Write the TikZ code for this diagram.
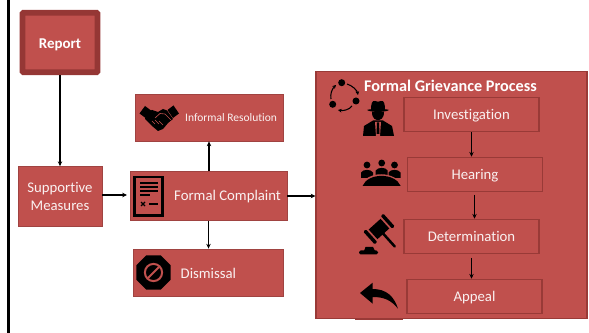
\documentclass[tikz,border=0pt]{standalone}
\usepackage{fontspec}
\setmainfont[Ligatures=CommonOff]{Carlito}
\usepackage{xcolor}
\usetikzlibrary{arrows.meta,shapes.geometric}
\definecolor{boxred}{HTML}{C0504D}
\definecolor{boxdark}{HTML}{953735}
\definecolor{boxedge}{HTML}{A04341}
\tikzset{
 redbox/.style={draw=boxedge, fill=boxred, line width=.7pt, text=white!92!boxred, align=center, inner sep=0pt, font=\fontsize{14}{16.5}\selectfont},
 stagebox/.style={redbox, draw=boxdark!90!boxred, line width=1.1pt, minimum width=4.5cm, minimum height=1.15cm, text height=11pt, text depth=.8pt},
 conn/.style={-{Stealth[length=4.5pt,width=4.2pt]}, line width=1.2pt, black},
}
\newcommand{\spyhead}[1]{
 \fill[black,shift={#1}] (-11,10) .. controls (-7,8.5) and (7,8.5) .. (11,10) .. controls (8,12.5) and (-8,12.5) .. (-11,10);
 \fill[black,shift={#1}] (-7,10) .. controls (-7,4) and (-6,0) .. (-3,1) .. controls (-1,2) and (1,2) .. (3,1) .. controls (6,0) and (7,4) .. (7,10) -- cycle;
 \fill[black,shift={#1}] (-6,12) -- (6,12) .. controls (6,19) and (2,20) .. (0,20) .. controls (-2,20) and (-6,19) .. (-6,12);
}
\begin{document}
\begin{tikzpicture}[x=.03333cm,y=-.03333cm]
 \useasboundingbox (0,0) rectangle (589,333);
 \draw[black, line width=2pt] (8.5,0) -- (8.5,333);
%
 \node[fill=boxred, draw=boxdark, line width=5.6pt, rounded corners=1pt, minimum width=2.5cm, minimum height=1.98cm, text=white, text height=11pt, text depth=.4pt, font=\fontsize{14.2}{16}\selectfont\bfseries] (report) at (60,42.5) {Report};
 \node[redbox, minimum width=2.8cm, minimum height=2cm] (supportive) at (60,196.5) {Supportive\\[.5pt]Measures};
 \node[redbox, minimum width=5.23cm, minimum height=1.63cm] (complaint) at (208.5,196) {};
 \node[redbox, minimum width=4.93cm, minimum height=1.57cm] (informal) at (209,117.5) {};
 \node[redbox, minimum width=5cm, minimum height=1.57cm] (dismissal) at (208,272.5) {};
 \fill[boxdark!90!boxred] (355,317) rectangle (403,320);
 \node[redbox, draw=boxdark!90!boxred, line width=1pt, minimum width=9.03cm, minimum height=8.2cm] (grievance) at (451.5,195) {};
%
 \node[text=white!92!boxred, font=\fontsize{14}{16}\selectfont, anchor=west, inner sep=0pt] (complainttext) at (174,196.5) {Formal Complaint};
 \node[text=white!92!boxred, font=\fontsize{10.9}{13}\selectfont, anchor=west, inner sep=0pt] (informaltext) at (185,117.5) {Informal Resolution};
 \node[text=white!92!boxred, font=\fontsize{14}{16}\selectfont, anchor=west, inner sep=0pt] (dismissaltext) at (180.5,273.5) {Dismissal};
 \node[text=white, font=\fontsize{15.4}{17}\selectfont\bfseries, anchor=west, inner sep=0pt] (grievancetext) at (364,85.5) {Formal Grievance Process};
%
 \node[stagebox] (investigation) at (471.5,114.5) {Investigation};
 \node[stagebox] (hearing) at (475,174.5) {Hearing};
 \node[stagebox] (determination) at (471.5,236.5) {Determination};
 \node[stagebox] (appeal) at (474.5,296.5) {Appeal};
%
 \draw[conn] (report.south) -- (supportive.north);
 \draw[conn] (supportive.east |- 0,195) -- (127,195);
 \draw[conn] (complaint.north -| 209,0) -- (informal.south -| 209,0);
 \draw[conn] (complaint.south) -- (dismissal.north -| complaint.south);
 \draw[conn] (complaint.east) -- (grievance.west |- complaint.east);
 \draw[conn] (investigation.south) -- (hearing.north -| investigation.south);
 \draw[conn] (474.5,195) -- (determination.north -| 474.5,0);
 \draw[conn] (471.5,258) -- (appeal.north -| 471.5,0);
%
% handshake
 \fill[black] (139.5,113.5) -- (145,106) -- (151,110.5) -- (145.5,118) -- cycle;
 \fill[black] (179,113.5) -- (173.5,105.5) -- (167.5,110) -- (173,118) -- cycle;
 \fill[black] (147,112) -- (152,110) -- (158,112) -- (163,109) -- (167,110.5) -- (173,119) -- (168,123) -- (163,129) -- (158,131) -- (152,126) -- (145,119) -- cycle;
 \draw[boxred, line width=.6pt] (155,118) -- (160,113.5) -- (165,114) -- (171,120);
 \draw[boxred, line width=.5pt] (152,121) -- (155,124) (155,120) -- (159,124) (159,121) -- (163,125);
%
% document
 \draw[black, line width=2pt] (134.5,177) rectangle (162.5,215.5);
 \draw[black, line width=1.3pt] (140,183) -- (158,183) (140,187) -- (158,187) (140,191) -- (158,191) (140,195) -- (150,195) (149,204) -- (158,204);
 \draw[black, line width=1.3pt] (141,202) -- (145,206) (145,202) -- (141,206);
%
% stop sign
 \node[regular polygon, regular polygon sides=8, fill=black, minimum size=1.24cm, inner sep=0pt] (stopsign) at (153.5,272.5) {};
 \draw[boxred, line width=1.9pt] (stopsign.center) circle (8.6);
 \draw[boxred, line width=1.9pt] (148,278) -- (159,267);
%
% cycle
 \foreach \cx/\cy in {341.7/82.7, 356/101, 332.7/104.3}
  \fill[black] (\cx,\cy) circle (3.5);
 \draw[-{Stealth[length=3.5pt,width=3.5pt]}, line width=1pt] (347,84) .. controls (352,85.5) and (357,90) .. (358,95);
 \draw[-{Stealth[length=3.5pt,width=3.5pt]}, line width=1pt] (352,106) .. controls (349,110) and (343,111) .. (338,110);
 \draw[-{Stealth[length=3.5pt,width=3.5pt]}, line width=1pt] (331,99) .. controls (330,94) and (332,89) .. (336,85);
%
% investigator
 \spyhead{(378,100)}
 \fill[black] (363,136) -- (364,126) -- (373,120.5) -- (383,120.5) -- (392,126) -- (394,136) -- cycle;
 \fill[boxred] (375,122) -- (381,122) -- (380,136) -- (376,136) -- cycle;
 \fill[black] (377,122.5) -- (379,122.5) -- (379.5,134) -- (376.5,134) -- cycle;
%
% table and people
 \foreach \cx/\cy in {367/165, 381.7/163, 394.5/165}{
  \fill[black] (\cx,\cy) circle (3.4);
  \fill[black] (\cx-6,\cy+13) -- (\cx-6,\cy+7.5) .. controls (\cx-4,\cy+4) and (\cx+4,\cy+4) .. (\cx+6,\cy+7.5) -- (\cx+6,\cy+13) -- cycle;
 }
 \fill[boxred] (360,187) .. controls (366,170) and (396,170) .. (403,187) -- cycle;
 \fill[black] (362.5,186) .. controls (368,172.5) and (395,172.5) .. (400.7,186) -- cycle;
%
% gavel
 \fill[black, rounded corners=1.5pt] (359,250.5) rectangle (378,254.5);
 \fill[black] (364,251) -- (365.5,247) -- (373,247) -- (375,251) -- cycle;
 \begin{scope}[shift={(379,229)}, rotate=42]
  \fill[black] (-8,-6.5) rectangle (8,6.5);
  \fill[black, rounded corners=1pt] (-13.5,-8.5) rectangle (-10,8.5);
  \fill[black, rounded corners=1pt] (10,-8.5) rectangle (13.5,8.5);
  \draw[black, line width=2.4pt, line cap=round] (0,0) -- (0,23.5);
 \end{scope}
%
% back arrow
 \fill[black] (360,293) -- (372.7,282.7) -- (372.7,289) .. controls (386,289) and (394,296) .. (398,308.7) .. controls (391,300) and (384,297) .. (372.7,297) -- (372.7,303.7) -- cycle;
\end{tikzpicture}
\end{document}
